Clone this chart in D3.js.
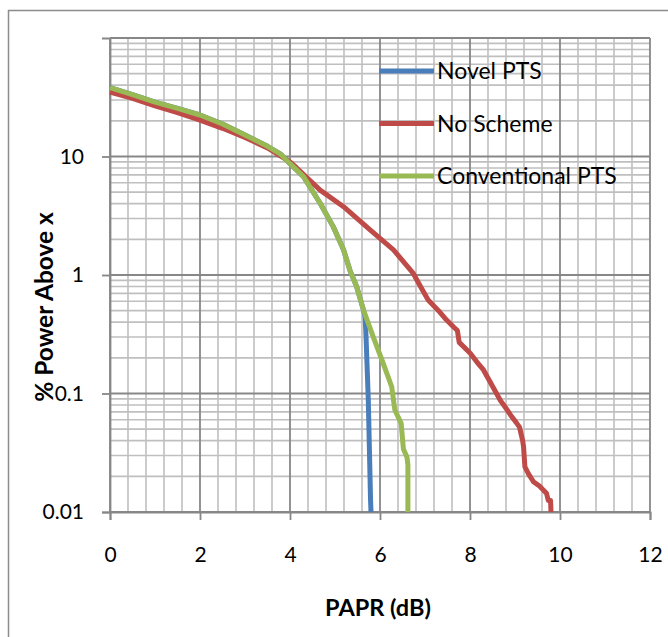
<!DOCTYPE html>
<html>
<head>
<meta charset="utf-8">
<script src="https://cdn.jsdelivr.net/npm/d3@7"></script>
<style>
  body { margin: 0; background: #fff; }
  svg { display: block; font-family: Lato, "Open Sans", sans-serif; }
</style>
</head>
<body>
<div id="viz"></div>
<script>
// series data (x = PAPR in dB, y = % power above x)
var novelX = [0, 0.5, 1, 1.5, 2, 2.5, 3, 3.5, 3.8, 4.0, 4.3, 4.67, 4.96, 5.19, 5.33, 5.48, 5.63, 5.67, 5.69, 5.74, 5.79, 5.8];
var novelY = [38.2, 33.3, 28.8, 25.5, 22.4, 18.8, 15.2, 12.2, 10.4, 8.7, 6.76, 4.03, 2.56, 1.63, 1.10, 0.80, 0.51, 0.44, 0.30, 0.088, 0.0126, 0.01];

var noSchemeX = [0, 0.5, 1, 1.5, 2, 2.5, 3, 3.5, 4, 4.15, 4.67, 5.19, 5.78, 6.3, 6.74, 6.9, 7.07, 7.3, 7.48, 7.63, 7.72, 7.76, 8.0, 8.15, 8.3, 8.5, 8.67, 8.8, 8.9, 9.04, 9.1, 9.17, 9.19, 9.22, 9.3, 9.41, 9.55, 9.63, 9.7, 9.74, 9.79, 9.8];
var noSchemeY = [35, 31, 26.8, 23.5, 20.3, 17.3, 14.5, 11.8, 9.0, 8.0, 5.2, 3.77, 2.4, 1.63, 1.03, 0.8, 0.615, 0.5, 0.417, 0.366, 0.34, 0.27, 0.22, 0.185, 0.158, 0.115, 0.088, 0.075, 0.066, 0.056, 0.052, 0.04, 0.0356, 0.024, 0.021, 0.018, 0.0165, 0.0153, 0.0144, 0.0125, 0.0125, 0.01];

var convX = [0, 0.5, 1, 1.5, 2, 2.5, 3, 3.5, 3.8, 4.0, 4.3, 4.67, 4.96, 5.19, 5.33, 5.48, 5.63, 5.85, 6.07, 6.26, 6.33, 6.47, 6.52, 6.6, 6.62, 6.62];
var convY = [38.2, 33.3, 28.8, 25.5, 22.4, 18.8, 15.2, 12.2, 10.4, 8.7, 6.76, 4.03, 2.56, 1.63, 1.10, 0.80, 0.51, 0.30, 0.18, 0.114, 0.0726, 0.056, 0.034, 0.029, 0.025, 0.01];

var seriesNames = ['Novel PTS', 'No Scheme', 'Conventional PTS'];
var seriesColors = ['#4a7ebb', '#be4b48', '#98b954'];

var xTicks = [0, 2, 4, 6, 8, 10, 12];
var yTicks = [0.01, 0.1, 1, 10];

var xTitle = 'PAPR (dB)';
var yTitle = '% Power Above x';

// page / plot geometry
var width = 668, height = 637;
var plotLeft = 110, plotRight = 650, plotTop = 38, plotBottom = 512;

var svg = d3.select('#viz').append('svg')
  .attr('width', width)
  .attr('height', height);

// outer chart border (only left and top show in the picture)
svg.append('rect')
  .attr('x', 8.5).attr('y', 10.5)
  .attr('width', 700).attr('height', 700)
  .attr('fill', 'none')
  .attr('stroke', '#8c8c8c')
  .attr('stroke-width', 1.5);

var x = d3.scaleLinear().domain([0, 12]).range([plotLeft, plotRight]);
var y = d3.scaleLog().domain([0.01, 100]).range([plotBottom, plotTop]);

// minor grid
var minorX = d3.range(0, 12.001, 0.4).filter(function (d) { return Math.abs(d / 2 - Math.round(d / 2)) > 1e-6; });
var minorY = [];
[0.01, 0.1, 1, 10].forEach(function (dec) {
  for (var k = 2; k <= 9; k++) minorY.push(dec * k);
});

var grid = svg.append('g').attr('class', 'grid');
grid.selectAll('.minorV').data(minorX).enter().append('line')
  .attr('x1', function (d) { return x(d); }).attr('x2', function (d) { return x(d); })
  .attr('y1', plotTop).attr('y2', plotBottom)
  .attr('stroke', '#bfbfbf').attr('stroke-width', 1.6);
grid.selectAll('.minorH').data(minorY).enter().append('line')
  .attr('y1', function (d) { return y(d); }).attr('y2', function (d) { return y(d); })
  .attr('x1', plotLeft).attr('x2', plotRight)
  .attr('stroke', '#bfbfbf').attr('stroke-width', 1.6);

// major grid
grid.selectAll('.majorV').data(xTicks).enter().append('line')
  .attr('x1', function (d) { return x(d); }).attr('x2', function (d) { return x(d); })
  .attr('y1', plotTop).attr('y2', plotBottom)
  .attr('stroke', '#878787').attr('stroke-width', 1.8);
grid.selectAll('.majorH').data([0.01, 0.1, 1, 10, 100]).enter().append('line')
  .attr('y1', function (d) { return y(d); }).attr('y2', function (d) { return y(d); })
  .attr('x1', plotLeft).attr('x2', plotRight)
  .attr('stroke', '#878787').attr('stroke-width', 1.8);

// axes
svg.append('g')
  .attr('class', 'axis xAxis')
  .attr('transform', 'translate(0,' + plotBottom + ')')
  .call(d3.axisBottom(x).tickValues(xTicks).tickSize(8).tickPadding(27).tickFormat(d3.format('d')));

svg.append('g')
  .attr('class', 'axis yAxis')
  .attr('transform', 'translate(' + plotLeft + ',0)')
  .call(d3.axisLeft(y).tickValues(yTicks).tickSize(8).tickPadding(18)
    .tickFormat(function (d) { return String(d); }));

svg.selectAll('.axis path').attr('stroke', '#878787').attr('stroke-width', 1.8);
svg.selectAll('.axis line').attr('stroke', '#878787').attr('stroke-width', 1.8);
svg.selectAll('.axis text')
  .attr('fill', '#000')
  .style('font-family', 'Lato, sans-serif')
  .style('font-size', '21px');

// series lines
var data = [
  { name: seriesNames[0], color: seriesColors[0], xs: novelX, ys: novelY },
  { name: seriesNames[1], color: seriesColors[1], xs: noSchemeX, ys: noSchemeY },
  { name: seriesNames[2], color: seriesColors[2], xs: convX, ys: convY }
];

var line = d3.line()
  .x(function (d) { return x(d[0]); })
  .y(function (d) { return y(d[1]); });

svg.selectAll('.series')
  .data(data)
  .enter()
  .append('path')
  .attr('class', 'series')
  .attr('d', function (s) { return line(d3.zip(s.xs, s.ys)); })
  .attr('fill', 'none')
  .attr('stroke', function (s) { return s.color; })
  .attr('stroke-width', 5)
  .attr('stroke-linejoin', 'round')
  .attr('stroke-linecap', 'butt');

// legend
var legendItems = svg.append('g').attr('class', 'legend')
  .selectAll('g')
  .data(data)
  .enter()
  .append('g')
  .attr('transform', function (d, i) { return 'translate(379,' + (71 + i * 52.5) + ')'; });

legendItems.append('line')
  .attr('x1', 0).attr('x2', 55)
  .attr('stroke', function (d) { return d.color; })
  .attr('stroke-width', 5);

legendItems.append('text')
  .attr('x', 58)
  .attr('dy', '0.35em')
  .style('font-size', '23px')
  .text(function (d) { return d.name; });

// axis titles
svg.append('text')
  .attr('x', 378)
  .attr('y', 608)
  .attr('dy', '0.35em')
  .attr('text-anchor', 'middle')
  .style('font-weight', 'bold')
  .style('font-size', '23.5px')
  .text(xTitle);

svg.append('text')
  .attr('transform', 'translate(44,307) rotate(-90)')
  .attr('dy', '0.35em')
  .attr('text-anchor', 'middle')
  .style('font-weight', 'bold')
  .style('font-size', '24.5px')
  .text(yTitle);
</script>
</body>
</html>
